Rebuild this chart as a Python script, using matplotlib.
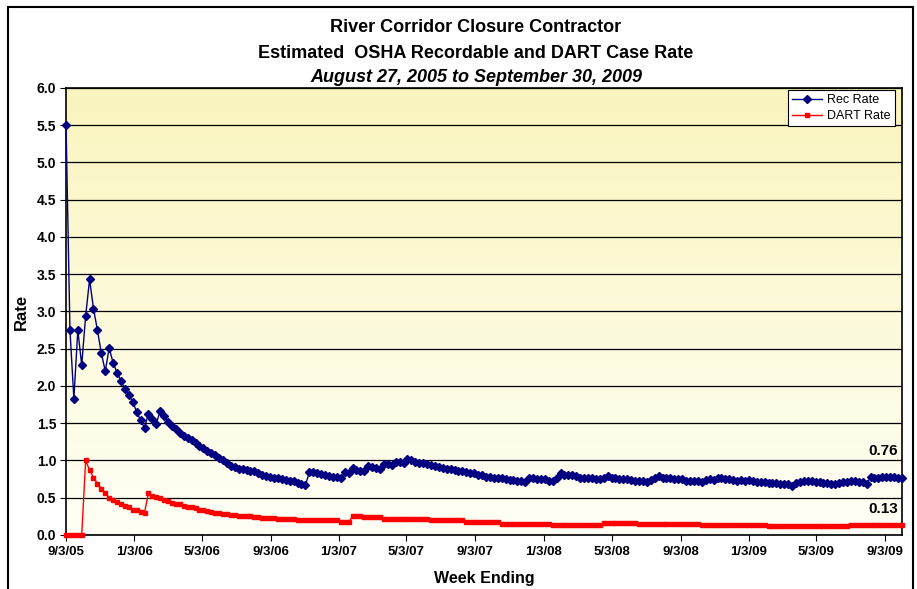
import matplotlib.pyplot as plt
from matplotlib.colors import LinearSegmentedColormap
from matplotlib.patches import Rectangle
import numpy as np
import pandas as pd

plt.rcParams['font.family'] = ['Liberation Sans', 'DejaVu Sans']

# weekly rates (first week ending 9/3/05)
first_week = '2005-09-03'

rec_rate = [
    5.50, 2.75, 1.83, 2.75, 2.28, 2.94, 3.43, 3.04, 2.75, 2.44,
    2.20, 2.51, 2.31, 2.18, 2.07, 1.96, 1.88, 1.79, 1.65, 1.54,
    1.44, 1.63, 1.56, 1.49, 1.67, 1.60, 1.52, 1.46, 1.42, 1.37,
    1.33, 1.30, 1.27, 1.24, 1.20, 1.17, 1.13, 1.10, 1.07, 1.04,
    1.01, 0.97, 0.93, 0.91, 0.89, 0.88, 0.87, 0.86, 0.86, 0.83,
    0.81, 0.79, 0.78, 0.77, 0.76, 0.75, 0.74, 0.73, 0.72, 0.70,
    0.69, 0.67, 0.84, 0.85, 0.83, 0.815, 0.80, 0.79, 0.78, 0.775,
    0.76, 0.84, 0.83, 0.90, 0.87, 0.86, 0.865, 0.93, 0.91, 0.90,
    0.89, 0.95, 0.95, 0.94, 0.98, 0.98, 0.96, 1.02, 1.00, 0.98,
    0.97, 0.96, 0.95, 0.94, 0.93, 0.91, 0.90, 0.89, 0.88, 0.87,
    0.865, 0.86, 0.84, 0.83, 0.83, 0.81, 0.80, 0.78, 0.78, 0.77,
    0.76, 0.76, 0.75, 0.74, 0.74, 0.725, 0.725, 0.71, 0.76, 0.76,
    0.75, 0.75, 0.75, 0.725, 0.725, 0.77, 0.83, 0.81, 0.80, 0.80,
    0.79, 0.77, 0.77, 0.76, 0.76, 0.75, 0.75, 0.77, 0.79, 0.77,
    0.77, 0.75, 0.75, 0.75, 0.74, 0.73, 0.73, 0.725, 0.71, 0.74,
    0.77, 0.79, 0.77, 0.77, 0.77, 0.75, 0.75, 0.75, 0.73, 0.73,
    0.73, 0.725, 0.71, 0.735, 0.75, 0.735, 0.76, 0.77, 0.75, 0.75,
    0.74, 0.73, 0.735, 0.73, 0.735, 0.725, 0.715, 0.71, 0.71, 0.70,
    0.70, 0.70, 0.69, 0.69, 0.685, 0.66, 0.70, 0.715, 0.725, 0.725,
    0.725, 0.715, 0.71, 0.70, 0.70, 0.69, 0.69, 0.70, 0.71, 0.715,
    0.725, 0.725, 0.715, 0.715, 0.69, 0.775, 0.77, 0.77, 0.775, 0.785,
    0.775, 0.785, 0.77, 0.76,
]

dart_rate = [
    0.00, 0.00, 0.00, 0.00, 0.00, 1.00, 0.87, 0.77, 0.69, 0.62,
    0.56, 0.50, 0.47, 0.44, 0.42, 0.39, 0.37, 0.34, 0.33, 0.31,
    0.30, 0.56, 0.53, 0.51, 0.49, 0.47, 0.45, 0.43, 0.42, 0.41,
    0.39, 0.38, 0.37, 0.36, 0.34, 0.33, 0.32, 0.31, 0.30, 0.29,
    0.28, 0.28, 0.27, 0.27, 0.26, 0.26, 0.25, 0.25, 0.24, 0.24,
    0.23, 0.23, 0.23, 0.225, 0.22, 0.22, 0.215, 0.21, 0.21, 0.205,
    0.20, 0.20, 0.20, 0.20, 0.20, 0.20, 0.20, 0.20, 0.20, 0.20,
    0.17, 0.17, 0.17, 0.25, 0.25, 0.25, 0.235, 0.235, 0.235, 0.235,
    0.235, 0.22, 0.22, 0.22, 0.22, 0.22, 0.22, 0.21, 0.21, 0.21,
    0.21, 0.21, 0.21, 0.195, 0.195, 0.195, 0.195, 0.195, 0.195, 0.195,
    0.195, 0.195, 0.17, 0.17, 0.17, 0.17, 0.17, 0.17, 0.17, 0.17,
    0.17, 0.15, 0.15, 0.15, 0.15, 0.15, 0.15, 0.15, 0.15, 0.15,
    0.15, 0.15, 0.15, 0.15, 0.135, 0.135, 0.135, 0.135, 0.135, 0.135,
    0.135, 0.135, 0.135, 0.135, 0.135, 0.135, 0.135, 0.167, 0.167, 0.167,
    0.167, 0.167, 0.167, 0.167, 0.167, 0.167, 0.149, 0.149, 0.149, 0.149,
    0.149, 0.149, 0.149, 0.149, 0.149, 0.149, 0.149, 0.149, 0.149, 0.149,
    0.149, 0.149, 0.135, 0.135, 0.135, 0.135, 0.135, 0.135, 0.135, 0.135,
    0.135, 0.135, 0.135, 0.135, 0.135, 0.135, 0.135, 0.135, 0.135, 0.12,
    0.12, 0.12, 0.12, 0.12, 0.12, 0.12, 0.12, 0.12, 0.12, 0.12,
    0.12, 0.12, 0.12, 0.12, 0.12, 0.12, 0.12, 0.12, 0.12, 0.12,
    0.13, 0.13, 0.13, 0.13, 0.13, 0.13, 0.13, 0.13, 0.13, 0.13,
    0.13, 0.13, 0.13, 0.13,
]

tick_dates = ['2005-09-03', '2006-01-03', '2006-05-03', '2006-09-03',
              '2007-01-03', '2007-05-03', '2007-09-03', '2008-01-03',
              '2008-05-03', '2008-09-03', '2009-01-03', '2009-05-03',
              '2009-09-03']

weeks = pd.date_range(first_week, periods=len(rec_rate), freq='7D')
ticks = pd.to_datetime(tick_dates)
tick_labels = [f'{d.month}/{d.day}/{d.year % 100:02d}' for d in ticks]

fig = plt.figure(figsize=(9.17, 5.89), dpi=100)

# outer chart border
fig.patches.append(Rectangle((8 / 917, -0.05), 905 / 917, 1.05 - 7 / 589,
                             transform=fig.transFigure, fill=False,
                             edgecolor='black', linewidth=1.5))

ax = fig.add_axes([0.072, 0.0917, 0.9116, 0.7589])

# pale yellow gradient behind the plot
cmap = LinearSegmentedColormap.from_list('bg', ['#FFFFF6', '#FAF5BE'])
grad = np.linspace(0, 1, 256).reshape(-1, 1)
ax.imshow(grad, cmap=cmap, origin='lower', aspect='auto',
          extent=[0, 1, 0, 1], transform=ax.transAxes, zorder=0)

ax.set_ylim(0, 6)
ax.set_xlim(weeks[0], weeks[-1])
ax.set_yticks(np.arange(0, 6.01, 0.5))
ax.set_yticklabels([f'{v:.1f}' for v in np.arange(0, 6.01, 0.5)])
ax.set_xticks(ticks)
ax.set_xticklabels(tick_labels)
ax.grid(axis='y', color='black', linewidth=0.9, zorder=1)
ax.set_axisbelow(False)

for lbl in ax.get_xticklabels() + ax.get_yticklabels():
    lbl.set_fontweight('bold')
ax.tick_params(axis='y', labelsize=10, length=4, direction='out', pad=3)
ax.tick_params(axis='x', labelsize=9.5, length=4, direction='out', pad=4)
for s in ax.spines.values():
    s.set_color('black')
    s.set_linewidth(1.2)

ax.plot(weeks, rec_rate, color='#000080', linewidth=1, marker='D',
        markersize=4, zorder=4, clip_on=False, label='Rec Rate')
ax.plot(weeks, dart_rate, color='#FF0000', linewidth=1, marker='s',
        markersize=3.5, zorder=3, clip_on=False, label='DART Rate')

ax.annotate(f'{rec_rate[-1]:.2f}', (weeks[-1], rec_rate[-1]),
            xytext=(-3, 15), textcoords='offset points', ha='right',
            va='bottom', fontsize=11, fontweight='bold')
ax.annotate(f'{dart_rate[-1]:.2f}', (weeks[-1], dart_rate[-1]),
            xytext=(-3, 7), textcoords='offset points', ha='right',
            va='bottom', fontsize=11, fontweight='bold')

leg = ax.legend(loc='upper right', bbox_to_anchor=(0.9916, 0.996),
                borderaxespad=0, fontsize=9, fancybox=False,
                edgecolor='black', framealpha=1, handlelength=2.4,
                borderpad=0.35, labelspacing=0.3, handletextpad=0.4)
leg.get_frame().set_linewidth(0.8)

ax.set_ylabel('Rate', fontsize=12, fontweight='bold', labelpad=6)
ax.set_xlabel('Week Ending', fontsize=11.5, fontweight='bold', labelpad=9)

fig.text(0.519, 1 - 27 / 589, 'River Corridor Closure Contractor',
         ha='center', va='center', fontsize=13, fontweight='bold')
fig.text(0.519, 1 - 53 / 589, 'Estimated  OSHA Recordable and DART Case Rate',
         ha='center', va='center', fontsize=13, fontweight='bold')
fig.text(0.519, 1 - 78 / 589, 'August 27, 2005 to September 30, 2009',
         ha='center', va='center', fontsize=13, fontweight='bold',
         style='italic')

fig.savefig('out.png', dpi=100)
